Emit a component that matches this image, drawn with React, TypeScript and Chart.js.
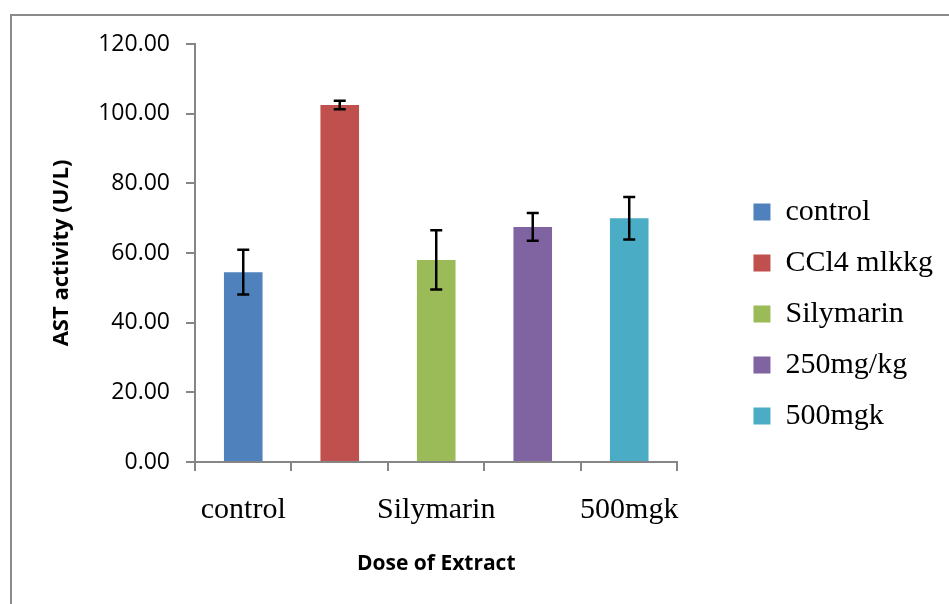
import React, { useEffect, useRef } from 'react';
import { Chart, registerables } from 'chart.js';

Chart.register(...registerables);

const categories = ['control', 'CCl4 mlkkg', 'Silymarin', '250mg/kg', '500mgk'];
const meanValues = [54.5, 102.5, 58.0, 67.5, 70.0];
const errorValues = [6.4, 1.2, 8.5, 4.0, 6.1];
const barColors = ['#4F81BD', '#C0504D', '#9BBB59', '#8064A2', '#4BACC6'];
const yMin = 0;
const yMax = 120;
const yStep = 20;

const AXIS_GRAY = '#868686';

const errorBarPlugin = {
  id: 'errorBars',
  afterDatasetsDraw(chart: any) {
    const meta = chart.getDatasetMeta(0);
    const yScale = chart.scales.y;
    const ctx = chart.ctx;
    ctx.save();
    ctx.strokeStyle = '#000000';
    ctx.lineWidth = 2.5;
    meta.data.forEach((bar: any, i: number) => {
      const x = bar.x;
      const top = yScale.getPixelForValue(meanValues[i] + errorValues[i]);
      const bottom = yScale.getPixelForValue(meanValues[i] - errorValues[i]);
      ctx.beginPath();
      ctx.moveTo(x, top);
      ctx.lineTo(x, bottom);
      ctx.moveTo(x - 6, top);
      ctx.lineTo(x + 6, top);
      ctx.moveTo(x - 6, bottom);
      ctx.lineTo(x + 6, bottom);
      ctx.stroke();
    });
    ctx.restore();
  },
};

export default function App() {
  const canvasRef = useRef<HTMLCanvasElement | null>(null);

  useEffect(() => {
    if (!canvasRef.current) return;
    const chart = new Chart(canvasRef.current, {
      type: 'bar',
      data: {
        labels: categories,
        datasets: [
          {
            label: 'AST activity',
            data: meanValues,
            backgroundColor: barColors,
            borderWidth: 0,
            categoryPercentage: 1,
            barPercentage: 0.4,
          },
        ],
      },
      options: {
        animation: false,
        responsive: false,
        devicePixelRatio: 1,
        layout: { padding: { left: 0, top: 44, right: 6, bottom: 20 } },
        plugins: {
          tooltip: { enabled: false },
          legend: {
            display: true,
            position: 'right',
            align: 'center',
            maxWidth: 400,
            labels: {
              boxWidth: 17,
              boxHeight: 17,
              padding: 21,
              color: '#000000',
              font: { family: '"Liberation Serif", "Times New Roman", serif', size: 30 },
              generateLabels: () =>
                categories.map((c, i) => ({
                  text: c,
                  fillStyle: barColors[i],
                  strokeStyle: barColors[i],
                  lineWidth: 0,
                  hidden: false,
                  index: i,
                  datasetIndex: 0,
                })),
            },
          },
        },
        scales: {
          x: {
            offset: true,
            grid: {
              offset: true,
              drawOnChartArea: false,
              drawTicks: true,
              tickLength: 9,
              color: AXIS_GRAY,
              lineWidth: 2,
            },
            border: { display: true, color: AXIS_GRAY, width: 2 },
            ticks: {
              autoSkip: false,
              maxRotation: 0,
              minRotation: 0,
              padding: 21,
              color: '#000000',
              font: { family: '"Liberation Serif", "Times New Roman", serif', size: 30 },
              callback: (_v: any, i: number) => (i % 2 === 0 ? categories[i] : ''),
            },
            title: {
              display: true,
              text: 'Dose of Extract',
              color: '#000000',
              font: { family: '"Open Sans", sans-serif', size: 21, weight: 'bold' },
              padding: { top: 0, bottom: 7 },
            },
            afterFit: (s: any) => {
              s.height = 122;
            },
          },
          y: {
            min: yMin,
            max: yMax,
            position: 'left',
            grid: {
              drawOnChartArea: false,
              drawTicks: true,
              tickLength: 9,
              color: AXIS_GRAY,
              lineWidth: 2,
            },
            border: { display: true, color: AXIS_GRAY, width: 2 },
            ticks: {
              stepSize: yStep,
              padding: 16,
              color: '#000000',
              font: { family: '"Open Sans", sans-serif', size: 23 },
              callback: (v: any) => Number(v).toFixed(2),
            },
            title: {
              display: true,
              text: 'AST activity (U/L)',
              color: '#000000',
              font: { family: '"Open Sans", sans-serif', size: 22, weight: 'bold' },
              padding: { top: 49, bottom: 0 },
            },
            afterFit: (s: any) => {
              s.width = 195;
            },
          },
          gap: {
            type: 'linear',
            position: 'right',
            display: true,
            grid: { display: false, drawTicks: false },
            border: { display: false },
            ticks: { display: false },
            afterFit: (s: any) => {
              s.width = 55;
            },
          },
        },
      },
      plugins: [errorBarPlugin],
    } as any);
    return () => chart.destroy();
  }, []);

  return (
    <div
      style={{
        position: 'fixed',
        left: 0,
        top: 0,
        width: 949,
        height: 604,
        background: '#ffffff',
        overflow: 'hidden',
      }}
    >
      <div
        style={{
          position: 'absolute',
          left: 10,
          top: 14,
          width: 1000,
          height: 1000,
          borderTop: '2px solid #8a8a8a',
          borderLeft: '2px solid #8a8a8a',
        }}
      />
      <canvas
        ref={canvasRef}
        width={949}
        height={604}
        style={{ position: 'absolute', left: 0, top: 0, width: 949, height: 604 }}
      />
    </div>
  );
}
